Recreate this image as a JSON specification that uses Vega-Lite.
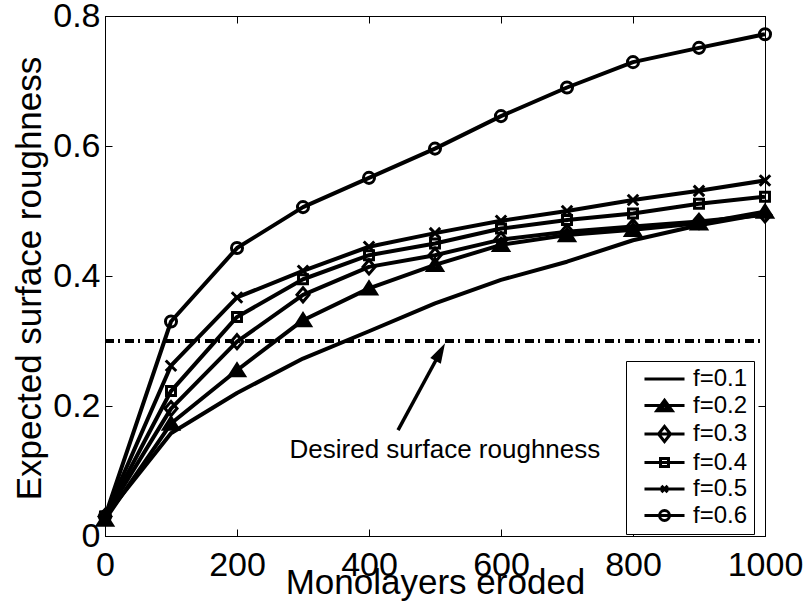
{
  "$schema": "https://vega.github.io/schema/vega-lite/v6.json",
  "width": 660,
  "height": 520,
  "autosize": "none",
  "padding": {"left": 105, "top": 16, "right": 42, "bottom": 69},
  "background": "white",
  "config": {
    "font": "Liberation Sans",
    "view": {"stroke": "black", "strokeWidth": 1},
    "axis": {
      "grid": false,
      "domainColor": "black",
      "domainWidth": 1,
      "tickColor": "black",
      "tickWidth": 1,
      "tickSize": -7,
      "labelColor": "black",
      "labelFont": "Liberation Sans",
      "labelFontSize": 34,
      "titleColor": "black",
      "titleFont": "Liberation Sans",
      "titleFontSize": 35,
      "titleFontWeight": "normal",
      "labelOverlap": false,
      "labelFlush": false
    }
  },
  "datasets": {
    "series": [
      {"f": "f=0.1", "x": 0, "y": 0.03}, {"f": "f=0.1", "x": 100, "y": 0.158}, {"f": "f=0.1", "x": 200, "y": 0.22}, {"f": "f=0.1", "x": 300, "y": 0.273}, {"f": "f=0.1", "x": 400, "y": 0.315}, {"f": "f=0.1", "x": 500, "y": 0.358}, {"f": "f=0.1", "x": 600, "y": 0.394}, {"f": "f=0.1", "x": 700, "y": 0.422}, {"f": "f=0.1", "x": 800, "y": 0.455}, {"f": "f=0.1", "x": 900, "y": 0.478}, {"f": "f=0.1", "x": 1000, "y": 0.496},
      {"f": "f=0.2", "x": 0, "y": 0.025}, {"f": "f=0.2", "x": 100, "y": 0.173}, {"f": "f=0.2", "x": 200, "y": 0.255}, {"f": "f=0.2", "x": 300, "y": 0.332}, {"f": "f=0.2", "x": 400, "y": 0.381}, {"f": "f=0.2", "x": 500, "y": 0.417}, {"f": "f=0.2", "x": 600, "y": 0.448}, {"f": "f=0.2", "x": 700, "y": 0.463}, {"f": "f=0.2", "x": 800, "y": 0.471}, {"f": "f=0.2", "x": 900, "y": 0.481}, {"f": "f=0.2", "x": 1000, "y": 0.499},
      {"f": "f=0.3", "x": 0, "y": 0.03}, {"f": "f=0.3", "x": 100, "y": 0.196}, {"f": "f=0.3", "x": 200, "y": 0.299}, {"f": "f=0.3", "x": 300, "y": 0.371}, {"f": "f=0.3", "x": 400, "y": 0.414}, {"f": "f=0.3", "x": 500, "y": 0.432}, {"f": "f=0.3", "x": 600, "y": 0.456}, {"f": "f=0.3", "x": 700, "y": 0.468}, {"f": "f=0.3", "x": 800, "y": 0.476}, {"f": "f=0.3", "x": 900, "y": 0.484}, {"f": "f=0.3", "x": 1000, "y": 0.494},
      {"f": "f=0.4", "x": 0, "y": 0.03}, {"f": "f=0.4", "x": 100, "y": 0.223}, {"f": "f=0.4", "x": 200, "y": 0.337}, {"f": "f=0.4", "x": 300, "y": 0.395}, {"f": "f=0.4", "x": 400, "y": 0.432}, {"f": "f=0.4", "x": 500, "y": 0.45}, {"f": "f=0.4", "x": 600, "y": 0.473}, {"f": "f=0.4", "x": 700, "y": 0.486}, {"f": "f=0.4", "x": 800, "y": 0.496}, {"f": "f=0.4", "x": 900, "y": 0.511}, {"f": "f=0.4", "x": 1000, "y": 0.522},
      {"f": "f=0.5", "x": 0, "y": 0.03}, {"f": "f=0.5", "x": 100, "y": 0.262}, {"f": "f=0.5", "x": 200, "y": 0.367}, {"f": "f=0.5", "x": 300, "y": 0.408}, {"f": "f=0.5", "x": 400, "y": 0.445}, {"f": "f=0.5", "x": 500, "y": 0.466}, {"f": "f=0.5", "x": 600, "y": 0.485}, {"f": "f=0.5", "x": 700, "y": 0.5}, {"f": "f=0.5", "x": 800, "y": 0.517}, {"f": "f=0.5", "x": 900, "y": 0.531}, {"f": "f=0.5", "x": 1000, "y": 0.547},
      {"f": "f=0.6", "x": 0, "y": 0.03}, {"f": "f=0.6", "x": 100, "y": 0.33}, {"f": "f=0.6", "x": 200, "y": 0.443}, {"f": "f=0.6", "x": 300, "y": 0.506}, {"f": "f=0.6", "x": 400, "y": 0.551}, {"f": "f=0.6", "x": 500, "y": 0.596}, {"f": "f=0.6", "x": 600, "y": 0.646}, {"f": "f=0.6", "x": 700, "y": 0.69}, {"f": "f=0.6", "x": 800, "y": 0.729}, {"f": "f=0.6", "x": 900, "y": 0.751}, {"f": "f=0.6", "x": 1000, "y": 0.772}
    ],
    "threshold": [{"x": 0, "x2": 1000, "y": 0.3}],
    "arrow": [{"x": 444, "y": 0.163, "x2": 506.5, "y2": 0.28}],
    "arrowhead": [{"x": 515.2, "y": 0.2965}],
    "note": [{"x": 515, "y": 0.12, "label": "Desired surface roughness"}]
  },
  "layer": [
    {
      "data": {"name": "threshold"},
      "mark": {"type": "rule", "color": "black", "strokeWidth": 4, "strokeDash": [9, 4, 2, 5]},
      "encoding": {
        "x": {"field": "x", "type": "quantitative", "scale": {"domain": [0, 1000], "nice": false, "zero": false},
              "axis": {"orient": "top", "labels": false, "title": null, "values": [0, 200, 400, 600, 800, 1000]}},
        "x2": {"field": "x2"},
        "y": {"field": "y", "type": "quantitative", "scale": {"domain": [0, 0.8], "nice": false, "zero": false},
              "axis": {"orient": "right", "labels": false, "title": null, "values": [0, 0.2, 0.4, 0.6, 0.8]}}
      }
    },
    {
      "data": {"name": "series"},
      "mark": {"type": "line", "color": "black", "strokeWidth": 4, "strokeJoin": "round"},
      "encoding": {
        "x": {"field": "x", "type": "quantitative",
              "axis": {"orient": "bottom", "values": [0, 200, 400, 600, 800, 1000], "format": "d", "labelPadding": 19,
                       "title": "Monolayers eroded", "titleY": 57, "titleBaseline": "alphabetic"}},
        "y": {"field": "y", "type": "quantitative",
              "axis": {"orient": "left", "values": [0, 0.2, 0.4, 0.6, 0.8], "format": "~g", "labelPadding": 12,
                       "title": "Expected surface roughness", "titleX": -65, "titleY": 262, "titleAngle": -90, "titleBaseline": "alphabetic", "titleAlign": "center"}},
        "detail": {"field": "f"},
        "order": {"field": "x", "type": "quantitative"}
      }
    },
    {
      "data": {"name": "series"},
      "mark": {"type": "point", "filled": false, "stroke": "black", "strokeWidth": 3, "size": 196, "opacity": 1},
      "encoding": {
        "x": {"field": "x", "type": "quantitative", "axis": null},
        "y": {"field": "y", "type": "quantitative", "axis": null},
        "shape": {
          "field": "f", "type": "nominal",
          "scale": {
            "domain": ["f=0.1", "f=0.2", "f=0.3", "f=0.4", "f=0.5", "f=0.6"],
            "range": [
              "M0,0L0,0",
              "M0,-0.9L1.07,0.8L-1.07,0.8ZM0,-0.3L0.5,0.45L-0.5,0.45Z",
              "M0,-1L0.86,0L0,1L-0.86,0Z",
              "M-0.64,-0.64H0.64V0.64H-0.64Z",
              "M-0.75,-0.75L0.75,0.75M0.75,-0.75L-0.75,0.75",
              "M0.79,0A0.79,0.79,0,1,1,-0.79,0A0.79,0.79,0,1,1,0.79,0Z"
            ]
          },
          "legend": null
        }
      }
    },
    {
      "data": {"name": "series"},
      "transform": [{"filter": "false"}],
      "mark": {"type": "point", "filled": false, "stroke": "black", "strokeWidth": 3, "opacity": 1},
      "encoding": {
        "x": {"field": "x", "type": "quantitative", "axis": null},
        "y": {"field": "y", "type": "quantitative", "axis": null},
        "shape": {
          "field": "f", "type": "nominal",
          "scale": {
            "domain": ["f=0.1", "f=0.2", "f=0.3", "f=0.4", "f=0.5", "f=0.6"],
            "range": [
              "M-2.86,0H2.86",
              "M-2.86,0H2.86M0,-0.75L1.1,0.75L-1.1,0.75ZM0,-0.2L0.45,0.5L-0.45,0.5Z",
              "M-2.86,0H2.86M0,-1.07L0.86,0L0,1.07L-0.86,0Z",
              "M-2.86,0H2.86M-0.57,-0.57H0.57V0.57H-0.57Z",
              "M-2.86,0H2.86M-0.45,-0.45L0.45,0.45M0.45,-0.45L-0.45,0.45",
              "M-2.86,0H2.86M0.71,0A0.71,0.71,0,1,1,-0.71,0A0.71,0.71,0,1,1,0.71,0Z"
            ]
          },
          "legend": {
            "title": null,
            "orient": "none",
            "legendX": 521,
            "legendY": 345,
            "padding": 6,
            "strokeColor": "black",
            "fillColor": "white",
            "cornerRadius": 0,
            "symbolSize": 196,
            "symbolStrokeWidth": 3,
            "symbolStrokeColor": "black",
            "symbolOpacity": 1,
            "symbolOffset": 20.5,
            "labelOffset": 16.5,
            "labelExpr": "datum.label + '\u00a0\u00a0'",
            "labelFont": "Liberation Sans",
            "labelFontSize": 24,
            "labelColor": "black",
            "rowPadding": 2.5
          }
        }
      }
    },
    {
      "data": {"name": "arrow"},
      "mark": {"type": "rule", "color": "black", "strokeWidth": 3.5},
      "encoding": {
        "x": {"field": "x", "type": "quantitative", "axis": null},
        "y": {"field": "y", "type": "quantitative", "axis": null},
        "x2": {"field": "x2"},
        "y2": {"field": "y2"}
      }
    },
    {
      "data": {"name": "arrowhead"},
      "mark": {"type": "point", "shape": "M0,0L1.2,4L-1.2,4Z", "filled": true, "color": "black", "size": 100, "angle": 28.3, "opacity": 1},
      "encoding": {
        "x": {"field": "x", "type": "quantitative", "axis": null},
        "y": {"field": "y", "type": "quantitative", "axis": null}
      }
    },
    {
      "data": {"name": "note"},
      "mark": {"type": "text", "font": "Liberation Sans", "fontSize": 26, "color": "black", "align": "center", "baseline": "alphabetic"},
      "encoding": {
        "x": {"field": "x", "type": "quantitative", "axis": null},
        "y": {"field": "y", "type": "quantitative", "axis": null},
        "text": {"field": "label"}
      }
    }
  ],
  "resolve": {"axis": {"x": "independent", "y": "independent"}, "scale": {"shape": "independent"}}
}
